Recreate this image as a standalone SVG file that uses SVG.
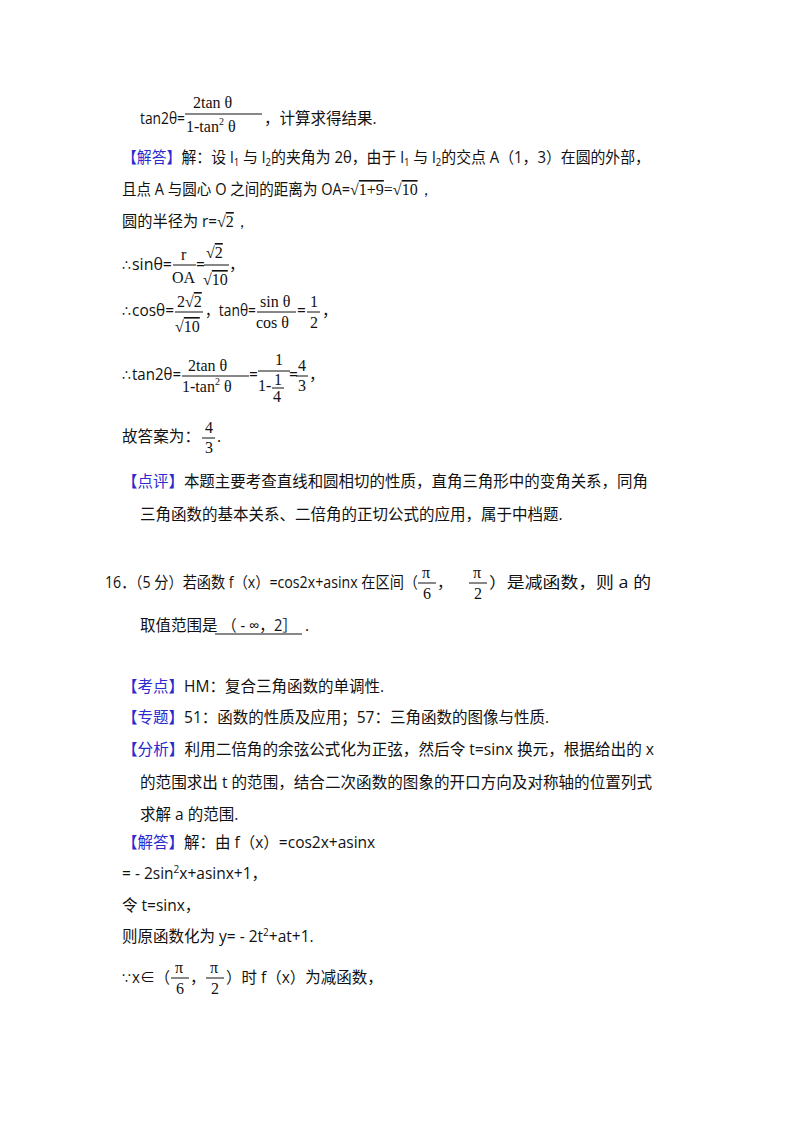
<svg xmlns="http://www.w3.org/2000/svg" width="800" height="1132" viewBox="0 0 800 1132">
<style>
text{font-family:"Open Sans","Noto Sans CJK SC",sans-serif;font-size:15.5px;fill:#111}
.m{font-family:"Liberation Serif","DejaVu Serif",serif;font-size:16px}
.d{font-family:"DejaVu Sans",sans-serif;font-size:14px}
.s{font-size:10px}
.b{fill:#2a2ad0}
.o{text-decoration:overline}
line{stroke:#111;stroke-width:1}
</style>
<rect width="800" height="1132" fill="#fff"/>
<text x="140" y="124" textLength="45" lengthAdjust="spacingAndGlyphs">tan2θ=</text>
<text class="m" x="193" y="108">2tan θ</text>
<line x1="185" y1="114" x2="262" y2="114"/>
<text class="m" x="186" y="132">1-tan<tspan class="s" dy="-7">2</tspan><tspan dy="7"> θ</tspan></text>
<text x="264" y="124">，计算求得结果.</text>
<text x="122" y="163" textLength="528" lengthAdjust="spacingAndGlyphs"><tspan class="b">【解答】</tspan>解：设 l<tspan class="s" dy="3">1</tspan><tspan dy="-3"> 与 l</tspan><tspan class="s" dy="3">2</tspan><tspan dy="-3">的夹角为 2θ，由于 l</tspan><tspan class="s" dy="3">1</tspan><tspan dy="-3"> 与 l</tspan><tspan class="s" dy="3">2</tspan><tspan dy="-3">的交点 A（1，3）在圆的外部，</tspan></text>
<text x="122" y="195" textLength="228" lengthAdjust="spacingAndGlyphs">且点 A 与圆心 O 之间的距离为 OA=</text>
<text class="m" x="350" y="195">√<tspan class="o">1+9</tspan>=√<tspan class="o">10</tspan>，</text>
<text x="122" y="227" textLength="95" lengthAdjust="spacingAndGlyphs">圆的半径为 r=</text>
<text class="m" x="217" y="227">√<tspan class="o">2</tspan>，</text>
<text class="d" x="122" y="270">∴</text>
<text x="132" y="270" textLength="40" lengthAdjust="spacingAndGlyphs">sinθ=</text>
<text class="m" x="181" y="260">r</text>
<line x1="173" y1="265" x2="196" y2="265"/>
<text class="m" x="172" y="283">OA</text>
<text x="196" y="270">=</text>
<text class="m" x="206" y="258">√<tspan class="o">2</tspan></text>
<line x1="204" y1="265" x2="229" y2="265"/>
<text class="m" x="203" y="285">√<tspan class="o">10</tspan></text>
<text x="229" y="270">，</text>
<text class="d" x="122" y="316">∴</text>
<text x="132" y="316" textLength="42" lengthAdjust="spacingAndGlyphs">cosθ=</text>
<text class="m" x="177" y="307">2√<tspan class="o">2</tspan></text>
<line x1="175" y1="312" x2="203" y2="312"/>
<text class="m" x="175" y="332">√<tspan class="o">10</tspan></text>
<text x="205" y="316" textLength="51" lengthAdjust="spacingAndGlyphs">，tanθ=</text>
<text class="m" x="260" y="307">sin θ</text>
<line x1="257" y1="312" x2="296" y2="312"/>
<text class="m" x="256" y="328">cos θ</text>
<text x="297" y="316">=</text>
<text class="m" x="310" y="307">1</text>
<line x1="307" y1="312" x2="320" y2="312"/>
<text class="m" x="310" y="328">2</text>
<text x="322" y="316">，</text>
<text class="d" x="122" y="380">∴</text>
<text x="132" y="380" textLength="49" lengthAdjust="spacingAndGlyphs">tan2θ=</text>
<text class="m" x="188" y="371">2tan θ</text>
<line x1="182" y1="376" x2="249" y2="376"/>
<text class="m" x="182" y="392">1-tan<tspan class="s" dy="-7">2</tspan><tspan dy="7"> θ</tspan></text>
<text x="249" y="380">=</text>
<text class="m" x="275" y="365">1</text>
<line x1="258" y1="371" x2="290" y2="371"/>
<text class="m" x="258" y="391">1-</text>
<text class="m" x="274" y="385">1</text>
<line x1="272" y1="388" x2="284" y2="388"/>
<text class="m" x="273" y="402">4</text>
<text x="289" y="380">=</text>
<text class="m" x="298" y="371">4</text>
<line x1="296" y1="376" x2="308" y2="376"/>
<text class="m" x="298" y="391">3</text>
<text x="309" y="380">，</text>
<text x="122" y="442" textLength="78" lengthAdjust="spacingAndGlyphs">故答案为：</text>
<text class="m" x="205" y="433">4</text>
<line x1="202" y1="438" x2="215" y2="438"/>
<text class="m" x="205" y="453">3</text>
<text x="217" y="442">.</text>
<text x="122" y="487" textLength="526" lengthAdjust="spacingAndGlyphs"><tspan class="b">【点评】</tspan>本题主要考查直线和圆相切的性质，直角三角形中的变角关系，同角</text>
<text x="140" y="520">三角函数的基本关系、二倍角的正切公式的应用，属于中档题.</text>
<text x="105" y="588" textLength="313" lengthAdjust="spacingAndGlyphs">16．（5 分）若函数 f（x）=cos2x+asinx 在区间（</text>
<text class="m" x="422" y="578">π</text>
<line x1="418" y1="583" x2="436" y2="583"/>
<text class="m" x="423" y="599">6</text>
<text x="437" y="588">，</text>
<text class="m" x="473" y="578">π</text>
<line x1="469" y1="583" x2="487" y2="583"/>
<text class="m" x="474" y="599">2</text>
<text x="489" y="588" textLength="162" lengthAdjust="spacingAndGlyphs">）是减函数，则 a 的</text>
<text x="140" y="631">取值范围是</text>
<text x="222" y="631" textLength="75" lengthAdjust="spacingAndGlyphs">（ - ∞，2］</text>
<text x="305" y="631">.</text>
<line x1="215" y1="634" x2="302" y2="634"/>
<text x="122" y="692"><tspan class="b">【考点】</tspan>HM：复合三角函数的单调性.</text>
<text x="122" y="723"><tspan class="b">【专题】</tspan>51：函数的性质及应用；57：三角函数的图像与性质.</text>
<text x="122" y="755" textLength="532" lengthAdjust="spacingAndGlyphs"><tspan class="b">【分析】</tspan>利用二倍角的余弦公式化为正弦，然后令 t=sinx 换元，根据给出的 x</text>
<text x="140" y="788" textLength="512" lengthAdjust="spacingAndGlyphs">的范围求出 t 的范围，结合二次函数的图象的开口方向及对称轴的位置列式</text>
<text x="140" y="820">求解 a 的范围.</text>
<text x="122" y="848"><tspan class="b">【解答】</tspan>解：由 f（x）=cos2x+asinx</text>
<text x="122" y="879">= - 2sin<tspan class="s" dy="-6">2</tspan><tspan dy="6">x+asinx+1，</tspan></text>
<text x="122" y="911">令 t=sinx，</text>
<text x="122" y="942">则原函数化为 y= - 2t<tspan class="s" dy="-6">2</tspan><tspan dy="6">+at+1.</tspan></text>
<text class="d" x="122" y="983">∵</text>
<text x="132" y="983" textLength="38" lengthAdjust="spacingAndGlyphs">x∈（</text>
<text class="m" x="175" y="973">π</text>
<line x1="171" y1="978" x2="189" y2="978"/>
<text class="m" x="176" y="994">6</text>
<text x="190" y="983">，</text>
<text class="m" x="210" y="973">π</text>
<line x1="206" y1="978" x2="224" y2="978"/>
<text class="m" x="211" y="994">2</text>
<text x="226" y="983">）时 f（x）为减函数，</text>
</svg>
